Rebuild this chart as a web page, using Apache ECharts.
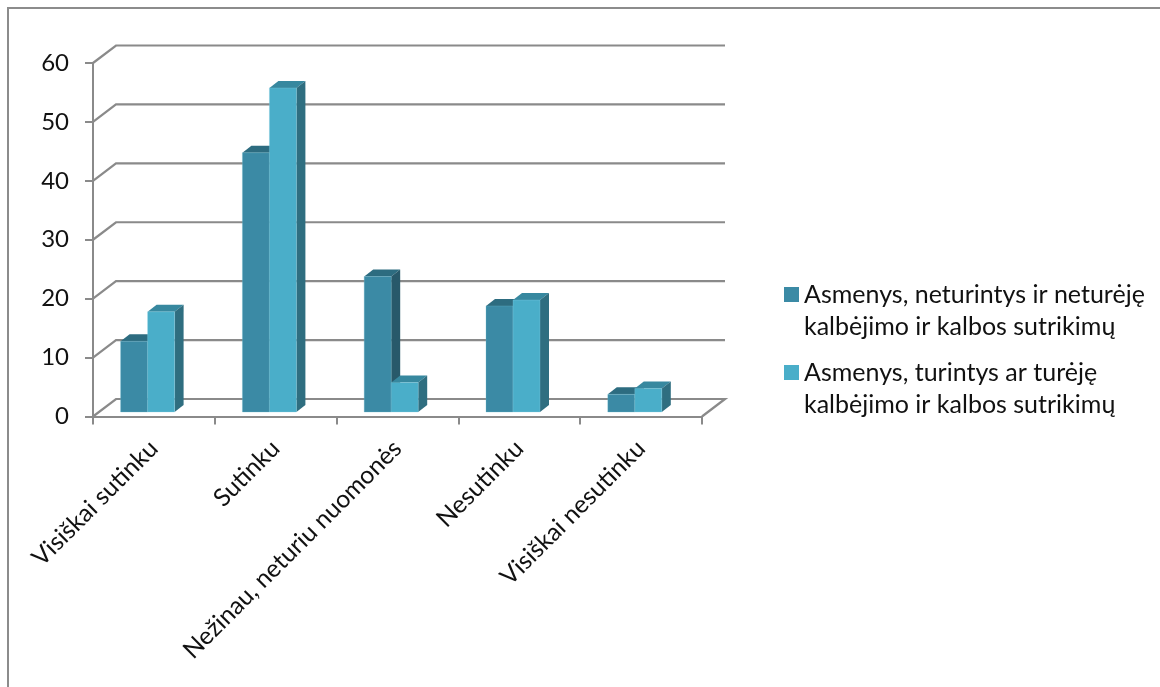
<!DOCTYPE html>
<html><head><meta charset="utf-8">
<style>html,body{margin:0;padding:0;background:#fff}#c{width:1160px;height:687px}</style>
<script src="https://cdn.jsdelivr.net/npm/echarts@6/dist/echarts.min.js"></script></head>
<body><div id="c"></div><script>
const categories=['Visiškai sutinku','Sutinku','Nežinau, neturiu nuomonės','Nesutinku','Visiškai nesutinku'];
const seriesAName='Asmenys, neturintys ir neturėję\nkalbėjimo ir kalbos sutrikimų';
const seriesBName='Asmenys, turintys ar turėję\nkalbėjimo ir kalbos sutrikimų';
const seriesA=[12,44,23,18,3];
const seriesB=[17,55,5,19,4];
const yTicks=[0,10,20,30,40,50,60];
const FONT='Lato,"Open Sans",sans-serif';
const AX='#8a8a8a';
const WALL={dx:23,dy:-17.5}, PLANE={dx:-6.3,dy:-4.5}, DEPTH={dx:9,dy:-7}, BAR=27;

function wall(params,api){
  const v=api.value(0), cs=params.coordSys, y=api.coord([0,v])[1];
  const x0=cs.x, x1=cs.x+cs.width;
  const pts=[[x0,y],[x0+WALL.dx,y+WALL.dy],[x1+WALL.dx,y+WALL.dy]];
  if(v===0) pts.push([x1,y]);
  return {type:'polyline',shape:{points:pts},style:{stroke:AX,lineWidth:2.2,fill:null},silent:true};
}
function bars(side,top,sideC,edge){
  return function(params,api){
    const c=api.coord([api.value(0),api.value(1)]), b=api.coord([api.value(0),0]);
    const l=c[0]+PLANE.dx+(side<0?-BAR:0), r=l+BAR, t=c[1]+PLANE.dy, B=b[1]+PLANE.dy;
    const d=DEPTH;
    return {type:'group',children:[
      {type:'polygon',shape:{points:[[l,t],[l+d.dx,t+d.dy],[r+d.dx,t+d.dy],[r,t]]},style:{fill:top}},
      {type:'polygon',shape:{points:[[r,t],[r+d.dx,t+d.dy],[r+d.dx,B+d.dy],[r,B]]},style:{fill:sideC}},
      {type:'rect',shape:{x:l,y:t,width:BAR,height:B-t},style:{fill:api.visual('color'),stroke:edge,lineWidth:1}}
    ]};
  };
}
const chart=echarts.init(document.getElementById('c'),null,{renderer:'canvas'});
chart.setOption({
  animation:false,backgroundColor:'#fff',
  textStyle:{fontFamily:FONT},
  graphic:[{type:'rect',shape:{x:8,y:8,width:1300,height:900},style:{fill:null,stroke:'#8c8c8c',lineWidth:2},silent:true}],
  grid:{left:93,top:63,width:609,height:353.5,containLabel:false},
  xAxis:{type:'category',data:categories,
    axisLine:{show:true,lineStyle:{color:AX,width:2}},
    axisTick:{show:true,length:8,lineStyle:{color:AX,width:2}},
    axisLabel:{interval:0,rotate:45,margin:28,fontSize:24.6,color:'#111',fontFamily:FONT}},
  yAxis:{type:'value',min:yTicks[0],max:yTicks[yTicks.length-1],interval:10,
    splitLine:{show:false},
    axisLine:{show:true,lineStyle:{color:AX,width:2}},
    axisTick:{show:true,length:8,lineStyle:{color:AX,width:2}},
    axisLabel:{margin:24,fontSize:24,color:'#111',fontFamily:FONT}},
  legend:{left:779,top:274,orient:'vertical',itemWidth:15,itemHeight:64,itemGap:14,
    icon:'path://M0 0H.01V.01H0ZM0 8H15V23H0ZM0 64H.01V64.01H0Z',
    data:[seriesAName,seriesBName],selectedMode:false,
    textStyle:{fontSize:25,lineHeight:32,color:'#111',fontFamily:FONT}},
  series:[
    {type:'custom',silent:true,renderItem:wall,data:yTicks.map(v=>[v]),encode:{y:0}},
    {type:'custom',name:seriesAName,silent:true,itemStyle:{color:'#3b8aa5'},
      renderItem:bars(-1,'#2d6c80','#28596a','rgba(110,185,205,.3)'),
      data:seriesA.map((v,i)=>[i,v]),encode:{x:0,y:1}},
    {type:'custom',name:seriesBName,silent:true,itemStyle:{color:'#4aaec9'},
      renderItem:bars(1,'#37889f','#2f6e80','rgba(140,210,228,.3)'),
      data:seriesB.map((v,i)=>[i,v]),encode:{x:0,y:1}}
  ]
});
</script></body></html>
